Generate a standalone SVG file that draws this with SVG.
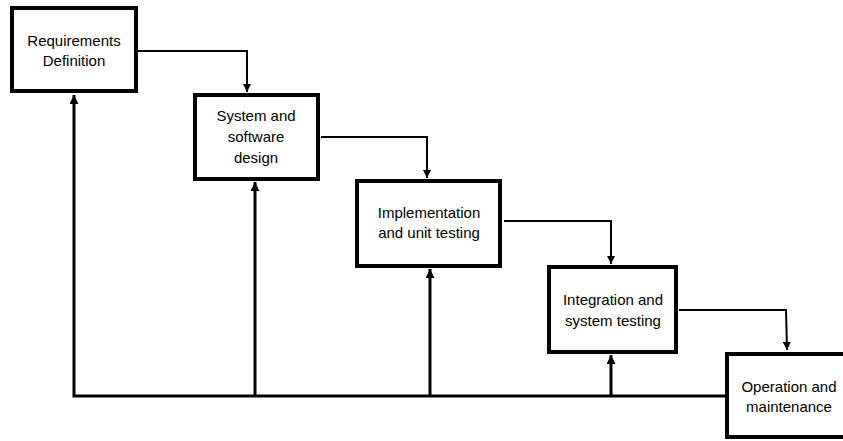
<svg xmlns="http://www.w3.org/2000/svg" width="843" height="441" viewBox="0 0 843 441">
<style>
.box{fill:#fff;stroke:#000;stroke-width:4}
.t{font-family:"Liberation Sans",Arial,sans-serif;font-size:15px;fill:#000;text-anchor:middle}
.fw{fill:none;stroke:#000;stroke-width:2}
.fb{fill:none;stroke:#000;stroke-width:3}
</style>
<defs>
<marker id="ah" viewBox="0 0 10 10" refX="10" refY="5" markerWidth="8" markerHeight="8" markerUnits="userSpaceOnUse" orient="auto">
<path d="M0,0 L10,5 L0,10 z" fill="#000"/>
</marker>
<marker id="ah2" viewBox="0 0 10 10" refX="10" refY="5" markerWidth="9" markerHeight="9" markerUnits="userSpaceOnUse" orient="auto">
<path d="M0,0 L10,5 L0,10 z" fill="#000"/>
</marker>
</defs>
<g id="connectors">
<path class="fw" d="M138,51 H247 V92" marker-end="url(#ah)"/>
<path class="fw" d="M321,137 H427 V178" marker-end="url(#ah)"/>
<path class="fw" d="M504,221 H611 V264" marker-end="url(#ah)"/>
<path class="fw" d="M679,310 H786 L787,350" marker-end="url(#ah)"/>
<path class="fb" d="M725,396 H74 V95" marker-end="url(#ah2)"/>
<path class="fb" d="M255,396 V182" marker-end="url(#ah2)"/>
<path class="fb" d="M430,396 V269" marker-end="url(#ah2)"/>
<path class="fb" d="M611,396 V355" marker-end="url(#ah2)"/>
</g>
<g id="n1">
<rect class="box" x="12" y="8" width="124" height="83"/>
<text class="t" x="74" y="46">Requirements</text>
<text class="t" x="74" y="66">Definition</text>
</g>
<g id="n2">
<rect class="box" x="195" y="95" width="123" height="84"/>
<text class="t" x="256" y="121">System and</text>
<text class="t" x="256" y="142">software</text>
<text class="t" x="256" y="163">design</text>
</g>
<g id="n3">
<rect class="box" x="357" y="181" width="143" height="85"/>
<text class="t" x="429" y="218">Implementation</text>
<text class="t" x="429" y="238">and unit testing</text>
</g>
<g id="n4">
<rect class="box" x="549" y="267" width="127" height="85"/>
<text class="t" x="613" y="305">Integration and</text>
<text class="t" x="613" y="326">system testing</text>
</g>
<g id="n5">
<rect class="box" x="727" y="354" width="120" height="83"/>
<text class="t" x="789" y="392">Operation and</text>
<text class="t" x="789" y="412">maintenance</text>
</g>
</svg>
